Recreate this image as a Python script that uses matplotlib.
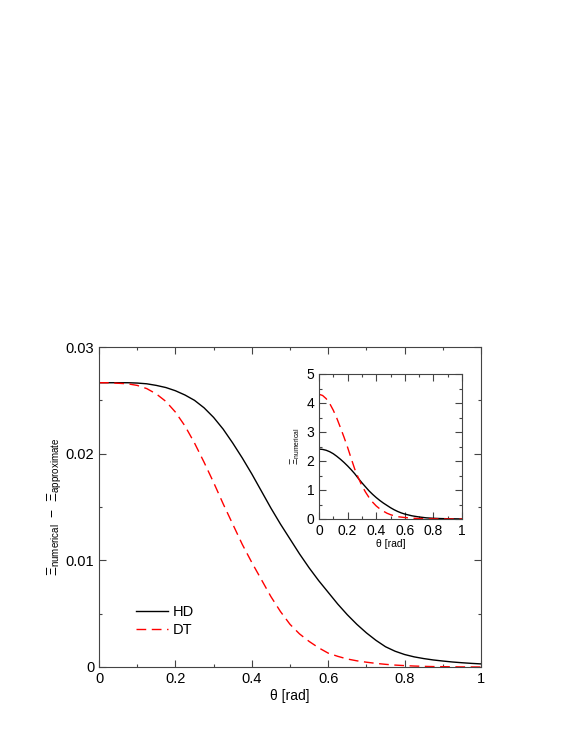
import matplotlib
matplotlib.use("Agg")
import matplotlib.pyplot as plt
from matplotlib.ticker import MultipleLocator

plt.rcParams["font.family"] = ["Liberation Sans", "DejaVu Sans"]
plt.rcParams["mathtext.fontset"] = "custom"
plt.rcParams["mathtext.rm"] = "Liberation Sans"

# ================= DATA =================

theta = [0.0, 0.025, 0.05, 0.075, 0.1, 0.125, 0.15, 0.175, 0.2, 0.225,
         0.25, 0.275, 0.3, 0.325, 0.35, 0.375, 0.4, 0.425, 0.45, 0.475,
         0.5, 0.525, 0.55, 0.575, 0.6, 0.625, 0.65, 0.675, 0.7, 0.725,
         0.75, 0.775, 0.8, 0.825, 0.85, 0.875, 0.9, 0.925, 0.95, 0.975, 1.0]

# main panel: numerical - approximate
diff_hd = [0.02665, 0.02665, 0.02665, 0.02665, 0.02662, 0.02655, 0.0264,
           0.0262, 0.0259, 0.0255, 0.0250, 0.0243, 0.0234, 0.0223, 0.0210,
           0.0196, 0.0181, 0.0165, 0.0149, 0.0134, 0.0120, 0.0106, 0.0093,
           0.0081, 0.0070, 0.0059, 0.0049, 0.0040, 0.0032, 0.0025, 0.0019,
           0.00148, 0.00117, 0.00095, 0.00079, 0.00066, 0.00056, 0.00047,
           0.0004, 0.00034, 0.00029]
diff_dt = [0.02665, 0.02665, 0.0266, 0.02655, 0.0264, 0.0261, 0.0256,
           0.0249, 0.0239, 0.0226, 0.0210, 0.0192, 0.0173, 0.0153, 0.0134,
           0.0115, 0.0098, 0.0082, 0.0066, 0.0052, 0.0040, 0.0031, 0.0024,
           0.0018, 0.0013, 0.0010, 0.00075, 0.00058, 0.00045, 0.00034,
           0.00025, 0.00018, 0.00013, 0.00009, 0.00006, 0.00004, 0.00003,
           0.00002, 0.00001, 0.000005, 0.0]

# inset: numerical
num_hd = [2.41, 2.40, 2.37, 2.32, 2.25, 2.16, 2.06, 1.95, 1.83, 1.70, 1.56,
          1.40, 1.25, 1.11, 0.97, 0.85, 0.74, 0.64, 0.55, 0.47, 0.39, 0.32,
          0.26, 0.21, 0.17, 0.14, 0.11, 0.09, 0.07, 0.055, 0.04, 0.032, 0.025,
          0.02, 0.015, 0.012, 0.01, 0.008, 0.006, 0.004, 0.003]
num_dt = [4.30, 4.26, 4.15, 3.98, 3.75, 3.47, 3.15, 2.82, 2.47, 2.09, 1.72,
          1.42, 1.15, 0.93, 0.74, 0.58, 0.45, 0.35, 0.27, 0.20, 0.15, 0.11,
          0.08, 0.065, 0.05, 0.04, 0.03, 0.022, 0.015, 0.012, 0.009, 0.007,
          0.005, 0.004, 0.003, 0.0025, 0.002, 0.0016, 0.0013, 0.0011, 0.001]

# ================= STYLE =================

FIG_W, FIG_H = 581, 752
DASH = (0, (7, 4))
SPINE = "#444444"


def style_axes(ax, xmaj, xmin, ymaj, ymin, labelsize):
    ax.xaxis.set_major_locator(MultipleLocator(xmaj))
    ax.xaxis.set_minor_locator(MultipleLocator(xmin))
    ax.yaxis.set_major_locator(MultipleLocator(ymaj))
    ax.yaxis.set_minor_locator(MultipleLocator(ymin))
    ax.tick_params(which="both", direction="in", top=True, right=True,
                   colors=SPINE, labelcolor="black", labelsize=labelsize,
                   width=0.8)
    ax.tick_params(which="major", length=5)
    ax.tick_params(which="minor", length=2.5)
    for s in ax.spines.values():
        s.set_color(SPINE)
        s.set_linewidth(0.8)


def fmt(v, _):
    return "0" if v == 0 else ("1" if v == 1 else f"{v:g}")


fig = plt.figure(figsize=(FIG_W / 100, FIG_H / 100), dpi=100)

# --- main panel ---
ax = fig.add_axes([99 / FIG_W, 1 - 667 / FIG_H, 382 / FIG_W, 320 / FIG_H])
ax.plot(theta, diff_hd, color="black", lw=1.0, label="HD")
ax.plot(theta, diff_dt, color="red", lw=1.0, linestyle=DASH, label="DT")
ax.set_xlim(0, 1)
ax.set_ylim(0, 0.03)
style_axes(ax, 0.2, 0.1, 0.01, 0.005, 10.5)
ax.xaxis.set_major_formatter(fmt)
ax.yaxis.set_major_formatter(fmt)
ax.set_xlabel(r"θ [rad]", fontsize=10, labelpad=2)
ax.set_ylabel(r"$\Xi_{\rm numerical}\ -\ \Xi_{\rm approximate}$", fontsize=10,
              labelpad=1)
ax.legend(loc="center left", bbox_to_anchor=(0.097, 0.144), frameon=False,
          fontsize=10.5, handlelength=2.2, handletextpad=0.3,
          labelspacing=0.25, borderpad=0, borderaxespad=0)

# --- inset ---
axi = fig.add_axes([319 / FIG_W, 1 - 519 / FIG_H, 143 / FIG_W, 145 / FIG_H])
axi.plot(theta, num_hd, color="black", lw=1.0)
axi.plot(theta, num_dt, color="red", lw=1.0, linestyle=DASH)
axi.set_xlim(0, 1)
axi.set_ylim(0, 5)
style_axes(axi, 0.2, 0.1, 1, 0.5, 10)
axi.xaxis.set_major_formatter(fmt)
axi.yaxis.set_major_formatter(fmt)
axi.set_xlabel("θ [rad]", fontsize=7.5, labelpad=1)
axi.set_ylabel(r"$\Xi_{\rm numerical}$", fontsize=7, labelpad=3)

plt.savefig("out.png", dpi=100)
plt.close()
